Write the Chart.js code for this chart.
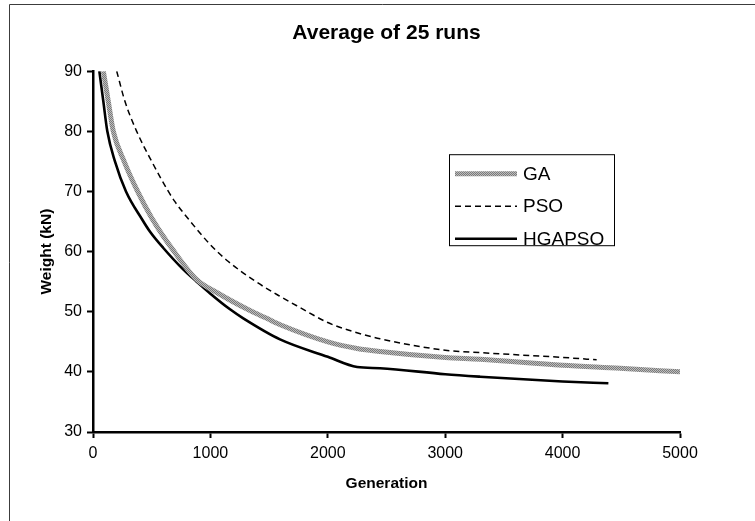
<!DOCTYPE html>
<html>
<head>
<meta charset="utf-8">
<script src="https://cdn.jsdelivr.net/npm/chart.js@4/dist/chart.umd.min.js"></script>
<style>
html,body{margin:0;padding:0;background:#fff;}
canvas{display:block;}
</style>
</head>
<body>
<canvas id="c" width="755" height="521"></canvas>
<script>
// ---- data ----
const chartTitle = 'Average of 25 runs';
const xAxisTitle = 'Generation';
const yAxisTitle = 'Weight (kN)';
const seriesNames = ['GA', 'PSO', 'HGAPSO'];
const xTicksRange = [0, 5000, 1000];   // min, max, step
const yTicksRange = [30, 90, 10];

const gaGen    = [88, 130, 173, 265, 380, 500, 680, 880, 1054, 1337, 1480, 1600, 2000, 2250, 2445, 3000, 3296, 4000, 4490, 5000];
const gaWeight = [90, 85, 80, 75, 70, 65.6, 60.3, 55.4, 53.2, 50.2, 48.9, 47.8, 45.0, 43.9, 43.4, 42.4, 42.1, 41.1, 40.6, 40.0];

const psoGen    = [202, 272, 372, 500, 642, 698, 826, 997, 1150, 1380, 1580, 1763, 2000, 2200, 2445, 3000, 3296, 4000, 4290];
const psoWeight = [90, 85, 80, 75, 70, 68.3, 65.1, 61.2, 58.4, 55.1, 52.7, 50.7, 48.2, 46.8, 45.5, 43.6, 43.2, 42.4, 42.0];

const hgGen    = [54, 88, 122, 187, 281, 420, 486, 599, 770, 883, 1000, 1167, 1280, 1593, 2000, 2250, 2445, 3000, 3296, 4000, 4390];
const hgWeight = [90, 85, 80, 75, 70, 65.3, 63.3, 60.6, 57.0, 55.0, 53.0, 50.4, 48.9, 45.4, 42.5, 40.8, 40.6, 39.6, 39.2, 38.4, 38.1];

// ---- styles ----
function grayPattern() {
  const p = document.createElement('canvas');
  p.width = 2; p.height = 2;
  const g = p.getContext('2d');
  g.fillStyle = '#bdbdbd'; g.fillRect(0, 0, 2, 2);
  g.fillStyle = '#7a7a7a'; g.fillRect(0, 0, 1, 1); g.fillRect(1, 1, 1, 1);
  return g.createPattern(p, 'repeat');
}
const FONT = "'Liberation Sans', Arial, sans-serif";

function toPoints(xs, ys) { return xs.map((x, i) => ({x: x, y: ys[i]})); }

const frame = {
  id: 'frame',
  beforeDraw(chart) {
    const ctx = chart.ctx;
    ctx.save();
    ctx.fillStyle = '#fff';
    ctx.fillRect(0, 0, chart.width, chart.height);
    ctx.strokeStyle = '#3c3c3c';
    ctx.lineWidth = 1;
    ctx.beginPath();
    ctx.moveTo(9.5, chart.height);
    ctx.lineTo(9.5, 4.5);
    ctx.lineTo(chart.width, 4.5);
    ctx.stroke();
    ctx.restore();
  }
};

const boxLegend = {
  id: 'boxLegend',
  afterDraw(chart) {
    const ctx = chart.ctx;
    const ca = chart.chartArea;
    const bx = ca.left + 356, by = ca.top + 83, bw = 165, bh = 91;
    ctx.save();
    ctx.fillStyle = '#fff';
    ctx.fillRect(bx, by, bw, bh);
    ctx.strokeStyle = '#000';
    ctx.lineWidth = 1;
    ctx.strokeRect(bx + 0.5, by + 0.5, bw, bh);
    ctx.font = '19px ' + FONT;
    ctx.textBaseline = 'middle';
    ctx.textAlign = 'left';
    chart.data.datasets.forEach((ds, i) => {
      const y = by + 19.5 + i * 32.5;
      ctx.beginPath();
      ctx.strokeStyle = ds.borderColor;
      ctx.lineWidth = ds.borderWidth;
      ctx.setLineDash(ds.borderDash || []);
      ctx.moveTo(bx + 6, y);
      ctx.lineTo(bx + 68, y);
      ctx.stroke();
      ctx.setLineDash([]);
      ctx.fillStyle = '#000';
      ctx.fillText(ds.label, bx + 74, y + 1);
    });
    ctx.restore();
  }
};

new Chart(document.getElementById('c'), {
  type: 'scatter',
  data: {
    datasets: [
      { label: seriesNames[0], data: toPoints(gaGen, gaWeight), showLine: true,
        borderColor: grayPattern(), borderWidth: 5, pointRadius: 0, cubicInterpolationMode: 'monotone' },
      { label: seriesNames[1], data: toPoints(psoGen, psoWeight), showLine: true,
        borderColor: '#000', borderWidth: 1.5, borderDash: [6, 4], pointRadius: 0, cubicInterpolationMode: 'monotone' },
      { label: seriesNames[2], data: toPoints(hgGen, hgWeight), showLine: true,
        borderColor: '#000', borderWidth: 2.6, pointRadius: 0, cubicInterpolationMode: 'monotone' }
    ]
  },
  options: {
    responsive: false,
    animation: false,
    devicePixelRatio: 1,
    layout: { padding: { left: 10, right: 75, top: 0, bottom: 0 } },
    plugins: {
      legend: { display: false },
      tooltip: { enabled: false },
      title: {
        display: true, text: chartTitle, fullSize: false, color: '#000',
        font: { family: FONT, size: 21, weight: 'bold' },
        padding: { top: 21, bottom: 25 }
      }
    },
    scales: {
      x: {
        type: 'linear', min: xTicksRange[0], max: xTicksRange[1],
        ticks: { stepSize: xTicksRange[2], color: '#000', padding: 6, font: { family: FONT, size: 16 }, maxRotation: 0,
                 callback: (v) => String(v) },
        grid: { display: true, drawOnChartArea: false, drawTicks: true, tickLength: 6, tickWidth: 2, tickColor: '#000' },
        border: { display: true, color: '#000', width: 2.5 },
        title: { display: true, text: xAxisTitle, color: '#000', font: { family: FONT, size: 15.5, weight: 'bold' }, padding: { top: 0, bottom: 28 } },
        afterFit(s) { s.height = 89; }
      },
      y: {
        type: 'linear', min: yTicksRange[0], max: yTicksRange[1],
        ticks: { stepSize: yTicksRange[2], color: '#000', padding: 5, font: { family: FONT, size: 16 },
                 callback: (v) => String(v) },
        grid: { display: true, drawOnChartArea: false, drawTicks: true, tickLength: 6, tickWidth: 2, tickColor: '#000' },
        border: { display: true, color: '#000', width: 2.5 },
        title: { display: true, text: yAxisTitle, color: '#000', font: { family: FONT, size: 15.5, weight: 'bold' }, padding: { top: 27, bottom: 0 } },
        afterFit(s) { s.width = 83; }
      }
    }
  },
  plugins: [frame, boxLegend]
});
</script>
</body>
</html>
